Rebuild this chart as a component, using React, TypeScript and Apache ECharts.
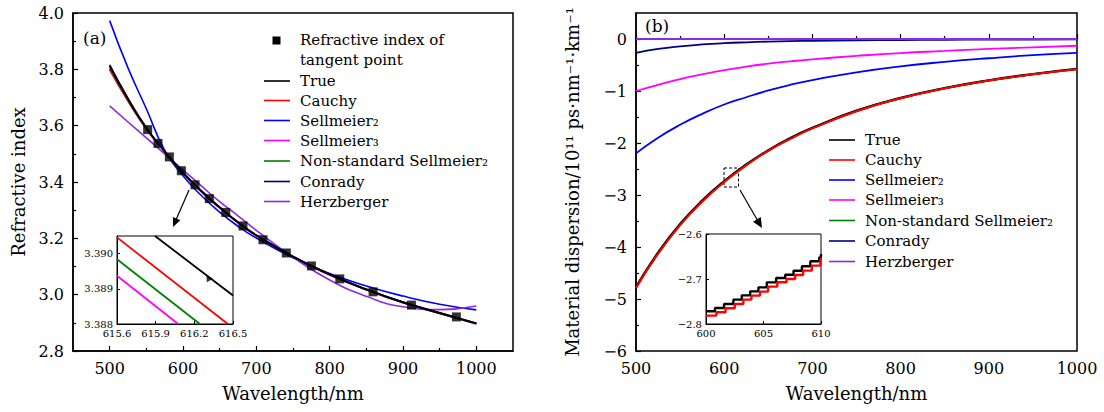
import React, { useEffect, useRef } from 'react';
import * as echarts from 'echarts';

// ---------- shared ----------
const WL = [500, 525, 550, 575, 600, 625, 650, 675, 700, 750, 800, 850, 900, 950, 1000];

// ---------- panel (a): refractive index ----------
const TANGENT_WL = [551.8, 565.9, 581.4, 597.7, 616.4, 635.9, 658.3, 681.8, 709.1, 740.9, 775.1, 813.8, 859.2, 911.5, 972.8];
const TANGENT_N = [3.586, 3.537, 3.489, 3.44, 3.39, 3.341, 3.292, 3.244, 3.195, 3.148, 3.102, 3.056, 3.01, 2.963, 2.921];
const N_TRUE = [3.812, 3.695, 3.592, 3.509, 3.433, 3.368, 3.31, 3.257, 3.211, 3.135, 3.072, 3.019, 2.973, 2.935, 2.898];
const N_CAUCHY = [3.803, 3.69, 3.59, 3.508, 3.432, 3.367, 3.309, 3.256, 3.21, 3.134, 3.071, 3.018, 2.972, 2.934, 2.897];
const N_SELL2 = [3.973, 3.805, 3.66, 3.512, 3.422, 3.352, 3.293, 3.243, 3.201, 3.131, 3.075, 3.031, 2.995, 2.966, 2.946];
const N_SELL3 = [3.798, 3.687, 3.588, 3.507, 3.431, 3.366, 3.308, 3.255, 3.209, 3.133, 3.07, 3.017, 2.971, 2.933, 2.896];
const N_NSSELL2 = [3.8, 3.688, 3.589, 3.5075, 3.4315, 3.3665, 3.3085, 3.2555, 3.2095, 3.1335, 3.0705, 3.0175, 2.9715, 2.9335, 2.8965];
const N_CONRADY = [3.816, 3.697, 3.593, 3.5095, 3.4335, 3.3685, 3.3105, 3.2575, 3.2115, 3.1355, 3.0725, 3.0195, 2.9735, 2.9355, 2.8985];
const N_HERZ = [3.67, 3.613, 3.557, 3.5, 3.443, 3.386, 3.33, 3.28, 3.228, 3.133, 3.052, 2.994, 2.957, 2.947, 2.96];

// inset (a)
const INSET_A_TRUE_WL = [615.895, 616.5];
const INSET_A_TRUE_N = [3.3905, 3.38881];
const INSET_A_CAUCHY_WL = [615.6, 616.46];
const INSET_A_CAUCHY_N = [3.39046, 3.388];
const INSET_A_NS_WL = [615.6, 616.243];
const INSET_A_NS_N = [3.38984, 3.388];
const INSET_A_SELL3_WL = [615.6, 616.075];
const INSET_A_SELL3_N = [3.38937, 3.388];
const INSET_A_POINT = [616.307, 3.38932];

// ---------- panel (b): material dispersion ----------
const D_TRUE = [-4.77, -4.11, -3.56, -3.11, -2.735, -2.415, -2.14, -1.905, -1.71, -1.38, -1.135, -0.945, -0.795, -0.675, -0.575];
const D_CAUCHY = [-4.79, -4.13, -3.58, -3.13, -2.75, -2.43, -2.15, -1.92, -1.72, -1.39, -1.14, -0.95, -0.8, -0.68, -0.58];
const D_SELL2 = [-2.2, -1.9, -1.65, -1.44, -1.26, -1.12, -0.99, -0.88, -0.79, -0.64, -0.525, -0.44, -0.37, -0.31, -0.265];
const D_SELL3 = [-1.0, -0.88, -0.77, -0.68, -0.6, -0.53, -0.475, -0.43, -0.39, -0.325, -0.27, -0.23, -0.19, -0.16, -0.13];
const D_NSSELL2 = [-4.785, -4.125, -3.575, -3.125, -2.745, -2.425, -2.145, -1.915, -1.715, -1.385, -1.138, -0.948, -0.798, -0.678, -0.578];
const D_CONRADY = [-0.265, -0.19, -0.14, -0.105, -0.08, -0.063, -0.05, -0.041, -0.034, -0.025, -0.019, -0.015, -0.012, -0.01, -0.008];
const D_HERZ = [0, 0, 0, 0, 0, 0, 0, 0, 0, 0, 0, 0, 0, 0, 0];

// inset (b) staircase
const STEP_TRUE_WL = [600.0, 600.78, 601.57, 602.38, 603.11, 603.84, 604.56, 605.29, 606.1, 606.89, 607.61, 608.34, 609.07, 609.85, 610.0];
const STEP_TRUE_D = [-2.7718, -2.7644, -2.7556, -2.7459, -2.7363, -2.7274, -2.7185, -2.7074, -2.6978, -2.6904, -2.6815, -2.6718, -2.6607, -2.6519, -2.6444];
const STEP_CAUCHY_WL = [600.0, 600.9, 601.7, 602.5, 603.25, 603.95, 604.7, 605.4, 606.2, 607.0, 607.75, 608.45, 609.2, 609.95, 610.0];
const STEP_CAUCHY_D = [-2.7813, -2.7739, -2.7651, -2.7554, -2.7458, -2.7369, -2.728, -2.7169, -2.7073, -2.6999, -2.691, -2.6813, -2.6702, -2.6614, -2.6539];

// ---------- ticks ----------
const X_TICKS_A = [500, 600, 700, 800, 900, 1000];
const X_MINOR_A = [550, 650, 750, 850, 950];
const Y_TICKS_B = [-6, -5, -4, -3, -2, -1, 0];
const Y_MINOR_B = [-5.5, -4.5, -3.5, -2.5, -1.5, -0.5];

const LEGEND_NAMES = ['True', 'Cauchy', 'Sellmeier₂', 'Sellmeier₃', 'Non-standard Sellmeier₂', 'Conrady', 'Herzberger'];
const COLORS = ['#000000', '#ff0000', '#0000ff', '#ff00ff', '#008000', '#000080', '#8a2be2'];
const POINT_LABEL = ['Refractive index of', 'tangent point'];

const FONT = '"DejaVu Serif", "Liberation Serif", serif';
const TICK_FS = 16;
const MINUS = (v: number) => (v < 0 ? '−' + String(Math.abs(v)) : String(v));

const pairs = (xs: number[], ys: number[]) => xs.map((x, i) => [x, ys[i]]);

function line(name: string, xs: number[], ys: number[], color: string, width: number, xi: number, yi: number, extra: any = {}) {
  return {
    type: 'line',
    name,
    data: pairs(xs, ys),
    xAxisIndex: xi,
    yAxisIndex: yi,
    symbol: 'none',
    showSymbol: false,
    smooth: 0.5,
    lineStyle: { color, width },
    itemStyle: { color },
    silent: true,
    ...extra,
  };
}

function legendGraphic(x0: number, x1: number, tx: number, ys: number[]) {
  const out: any[] = [];
  LEGEND_NAMES.forEach((n, i) => {
    out.push({ type: 'line', shape: { x1: x0, y1: ys[i], x2: x1, y2: ys[i] }, style: { stroke: COLORS[i], lineWidth: 1.6 } });
    out.push({ type: 'text', x: tx, y: ys[i], style: { text: n, font: `15px ${FONT}`, fill: '#000', verticalAlign: 'middle', align: 'left' } });
  });
  return out;
}

const axisCommon = (fontSize: number) => ({
  type: 'value',
  axisLine: { show: true, lineStyle: { color: '#000', width: 1.5 } },
  axisTick: { show: true, inside: true, length: 5, lineStyle: { color: '#000', width: 1.2 } },
  minorTick: { show: false },
  splitLine: { show: false },
  axisLabel: { color: '#000', fontFamily: FONT, fontSize },
});

export default function App() {
  const ref = useRef<HTMLDivElement>(null);
  useEffect(() => {
    if (!ref.current) return;
    const chart = echarts.init(ref.current, null, { renderer: 'svg' });
    const nameStyle = { color: '#000', fontFamily: FONT, fontSize: 18 };
    const option: any = {
      animation: false,
      backgroundColor: '#fff',
      grid: [
        { left: 73, top: 13, width: 440, height: 338, show: true, borderColor: '#000', borderWidth: 1.5, backgroundColor: 'transparent' },
        { left: 117, top: 236, width: 116, height: 88, show: true, borderColor: '#000', borderWidth: 1, backgroundColor: '#fff' },
        { left: 636, top: 13, width: 441, height: 338, show: true, borderColor: '#000', borderWidth: 1.5, backgroundColor: 'transparent' },
        { left: 706, top: 234, width: 115, height: 90, show: true, borderColor: '#000', borderWidth: 1, backgroundColor: '#fff' },
      ],
      xAxis: [
        {
          ...axisCommon(TICK_FS), gridIndex: 0, min: 450, max: 1050, position: 'bottom',
          axisLabel: { color: '#000', fontFamily: FONT, fontSize: TICK_FS, margin: 9, customValues: X_TICKS_A, formatter: (v: number) => String(v) },
          axisTick: { show: true, inside: true, length: 5, lineStyle: { color: '#000', width: 1.2 }, customValues: X_TICKS_A },
          name: 'Wavelength/nm', nameLocation: 'middle', nameGap: 33, nameTextStyle: nameStyle,
        },
        {
          type: 'value', gridIndex: 0, min: 450, max: 1050, position: 'bottom', offset: 0,
          axisLine: { show: false }, axisLabel: { show: false }, splitLine: { show: false },
          axisTick: { show: true, inside: true, length: 3, lineStyle: { color: '#000', width: 1.2 }, customValues: X_MINOR_A },
        },
        {
          ...axisCommon(10), gridIndex: 1, min: 615.6, max: 616.5, interval: 0.3,
          axisLine: { show: true, lineStyle: { color: '#000', width: 1 } },
          axisTick: { show: true, inside: true, length: 3, lineStyle: { color: '#000', width: 1 } },
          axisLabel: { color: '#000', fontFamily: FONT, fontSize: 10, margin: 4, formatter: (v: number) => v.toFixed(1) },
        },
        {
          ...axisCommon(TICK_FS), gridIndex: 2, min: 500, max: 1000, interval: 100,
          minorTick: { show: true, splitNumber: 2, length: 3, lineStyle: { color: '#000', width: 1.2 } },
          axisLabel: { color: '#000', fontFamily: FONT, fontSize: TICK_FS, margin: 9, formatter: (v: number) => String(v) },
          name: 'Wavelength/nm', nameLocation: 'middle', nameGap: 33, nameTextStyle: nameStyle,
        },
        {
          ...axisCommon(10), gridIndex: 3, min: 600, max: 610, interval: 5,
          axisLine: { show: true, lineStyle: { color: '#000', width: 1 } },
          axisTick: { show: true, inside: true, length: 3, lineStyle: { color: '#000', width: 1 } },
          axisLabel: { color: '#000', fontFamily: FONT, fontSize: 10, margin: 4 },
        },
      ],
      yAxis: [
        {
          ...axisCommon(TICK_FS), gridIndex: 0, min: 2.8, max: 4.0, interval: 0.2,
          minorTick: { show: true, splitNumber: 2, length: 3, lineStyle: { color: '#000', width: 1.2 } },
          axisLabel: { color: '#000', fontFamily: FONT, fontSize: TICK_FS, margin: 9, formatter: (v: number) => v.toFixed(1) },
          name: 'Refractive index', nameLocation: 'middle', nameGap: 46, nameTextStyle: nameStyle,
        },
        {
          ...axisCommon(10), gridIndex: 1, min: 3.388, max: 3.3905, interval: 0.001,
          axisLine: { show: true, lineStyle: { color: '#000', width: 1 } },
          axisTick: { show: true, inside: true, length: 3, lineStyle: { color: '#000', width: 1 } },
          axisLabel: { color: '#000', fontFamily: FONT, fontSize: 10, margin: 4, showMaxLabel: false, formatter: (v: number) => v.toFixed(3) },
        },
        {
          ...axisCommon(TICK_FS), gridIndex: 2, min: -6, max: 0.5, position: 'left',
          axisLabel: { color: '#000', fontFamily: FONT, fontSize: TICK_FS, margin: 9, customValues: Y_TICKS_B, formatter: (v: number) => MINUS(v) },
          axisTick: { show: true, inside: true, length: 5, lineStyle: { color: '#000', width: 1.2 }, customValues: Y_TICKS_B },
          name: 'Material dispersion/10¹¹ ps·nm⁻¹·km⁻¹', nameLocation: 'middle', nameGap: 55, nameTextStyle: nameStyle,
        },
        {
          type: 'value', gridIndex: 2, min: -6, max: 0.5, position: 'left', offset: 0,
          axisLine: { show: false }, axisLabel: { show: false }, splitLine: { show: false },
          axisTick: { show: true, inside: true, length: 3, lineStyle: { color: '#000', width: 1.2 }, customValues: Y_MINOR_B },
        },
        {
          ...axisCommon(10), gridIndex: 3, min: -2.8, max: -2.6, interval: 0.1,
          axisLine: { show: true, lineStyle: { color: '#000', width: 1 } },
          axisTick: { show: true, inside: true, length: 3, lineStyle: { color: '#000', width: 1 } },
          axisLabel: { color: '#000', fontFamily: FONT, fontSize: 10, margin: 4, formatter: (v: number) => MINUS(Number(v.toFixed(1))) },
        },
      ],
      series: [
        // panel (a)
        line('Sellmeier₃', WL, N_SELL3, COLORS[3], 1.6, 0, 0),
        line('Non-standard Sellmeier₂', WL, N_NSSELL2, COLORS[4], 1.6, 0, 0),
        line('Cauchy', WL, N_CAUCHY, COLORS[1], 1.6, 0, 0),
        line('Sellmeier₂', WL, N_SELL2, COLORS[2], 1.6, 0, 0),
        line('Herzberger', WL, N_HERZ, COLORS[6], 1.6, 0, 0),
        line('Conrady', WL, N_CONRADY, COLORS[5], 1.6, 0, 0),
        line('True', WL, N_TRUE, COLORS[0], 1.9, 0, 0),
        {
          type: 'scatter', name: 'Refractive index of tangent point', xAxisIndex: 0, yAxisIndex: 0,
          data: pairs(TANGENT_WL, TANGENT_N), symbol: 'rect', symbolSize: 9, itemStyle: { color: '#000' }, silent: true, z: 5,
        },
        // inset (a)
        line('True', INSET_A_TRUE_WL, INSET_A_TRUE_N, COLORS[0], 1.8, 2, 1, { smooth: false }),
        line('Cauchy', INSET_A_CAUCHY_WL, INSET_A_CAUCHY_N, COLORS[1], 1.8, 2, 1, { smooth: false }),
        line('Non-standard Sellmeier₂', INSET_A_NS_WL, INSET_A_NS_N, COLORS[4], 1.8, 2, 1, { smooth: false }),
        line('Sellmeier₃', INSET_A_SELL3_WL, INSET_A_SELL3_N, COLORS[3], 1.8, 2, 1, { smooth: false }),
        {
          type: 'scatter', xAxisIndex: 2, yAxisIndex: 1, data: [INSET_A_POINT], symbol: 'triangle', symbolSize: 7,
          symbolRotate: 30, itemStyle: { color: '#000' }, silent: true, z: 5,
        },
        // panel (b)
        line('Non-standard Sellmeier₂', WL, D_NSSELL2, COLORS[4], 2, 3, 2),
        line('True', WL, D_TRUE, COLORS[0], 2.4, 3, 2),
        line('Cauchy', WL, D_CAUCHY, COLORS[1], 2, 3, 2),
        line('Sellmeier₂', WL, D_SELL2, COLORS[2], 1.8, 3, 2),
        line('Sellmeier₃', WL, D_SELL3, COLORS[3], 1.8, 3, 2),
        line('Conrady', WL, D_CONRADY, COLORS[5], 1.8, 3, 2),
        line('Herzberger', WL, D_HERZ, COLORS[6], 2, 3, 2),
        // inset (b)
        line('True', STEP_TRUE_WL, STEP_TRUE_D, COLORS[0], 2.4, 4, 4, { smooth: false, step: 'end' }),
        line('Cauchy', STEP_CAUCHY_WL, STEP_CAUCHY_D, COLORS[1], 2.4, 4, 4, { smooth: false, step: 'end' }),
      ],
      graphic: [
        { type: 'text', x: 83, y: 38, style: { text: '(a)', font: `17px ${FONT}`, fill: '#000', verticalAlign: 'middle' } },
        { type: 'text', x: 645, y: 26, style: { text: '(b)', font: `17px ${FONT}`, fill: '#000', verticalAlign: 'middle' } },
        // legend (a)
        { type: 'rect', shape: { x: 272.5, y: 36.5, width: 8, height: 8 }, style: { fill: '#000' } },
        { type: 'text', x: 300, y: 40, style: { text: POINT_LABEL[0], font: `15px ${FONT}`, fill: '#000', verticalAlign: 'middle' } },
        { type: 'text', x: 300, y: 60, style: { text: POINT_LABEL[1], font: `15px ${FONT}`, fill: '#000', verticalAlign: 'middle' } },
        ...legendGraphic(264, 290, 300, [81, 100.5, 120.5, 140.5, 161, 181.5, 201.5]),
        // legend (b)
        ...legendGraphic(829, 855, 865, [140, 160, 180, 200, 220.5, 241, 261.5]),
        // arrow (a)
        { type: 'line', shape: { x1: 189, y1: 190, x2: 175.5, y2: 221 }, style: { stroke: '#000', lineWidth: 1.2 } },
        { type: 'polygon', shape: { points: [[173, 227], [180.3, 220.3], [172.9, 217.1]] }, style: { fill: '#000' } },
        // dashed box + arrow (b)
        { type: 'rect', shape: { x: 724, y: 168, width: 14.5, height: 19 }, style: { fill: 'none', stroke: '#000', lineWidth: 1, lineDash: [3, 2] } },
        { type: 'line', shape: { x1: 740, y1: 190, x2: 758.5, y2: 222 }, style: { stroke: '#000', lineWidth: 1.2 } },
        { type: 'polygon', shape: { points: [[762, 228], [760.8, 217.1], [753, 221.7]] }, style: { fill: '#000' } },
      ],
    };
    chart.setOption(option);
    return () => chart.dispose();
  }, []);
  return <div ref={ref} style={{ position: 'absolute', left: 0, top: 0, width: 1104, height: 412 }} />;
}
